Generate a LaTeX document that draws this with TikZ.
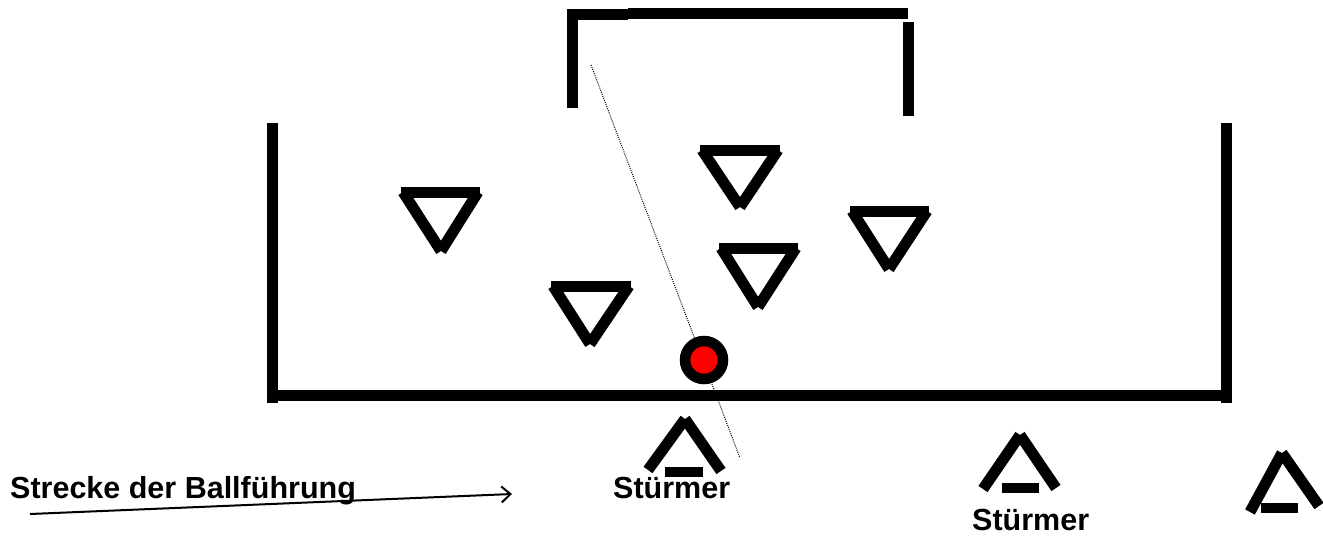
\documentclass[tikz,border=0pt]{standalone}
\usepackage{fontspec}
\setmainfont{Liberation Sans}
\usetikzlibrary{arrows.meta}
\tikzset{
  thick line/.style={line width=11pt, line cap=butt},
  label text/.style={font=\fontsize{30.5}{34}\selectfont\bfseries, inner sep=0pt, anchor=base west},
  guide/.style={line width=1pt, dash pattern=on 1pt off 1.2pt},
  run arrow/.style={line width=2pt, -{Straight Barb[length=9pt,width=16pt,line width=2pt]}}
}
\begin{document}
\begin{tikzpicture}[x=1pt,y=-1pt]
\useasboundingbox (0,0) rectangle (1323,539);
% goal
\draw[thick line] (572,108) -- (572,14);
\draw[thick line] (567,14) -- (628,14);
\draw[thick line] (628,13) -- (908,13);
\draw[thick line] (908,22) -- (908,116);
% field
\draw[thick line] (272.5,123) -- (272.5,403);
\draw[thick line] (1226.5,123) -- (1226.5,403);
\draw[thick line] (272,395) -- (1226,395);
% dotted guide
\coordinate (g1) at (591,65);
\coordinate (g2) at (740,458);
\draw[guide] (g1) -- (g2);
% defenders
\foreach \n/\l/\r/\t/\ax/\ay in {d1/401/480/192/441/249, d2/551/631/286/590/342, d3/700/780/150/740/205, d4/719/798/248/758/305, d5/850/929/211/889/267}{
  \draw[thick line] (\l,\t) -- (\r,\t);
  \draw[thick line] (\l+2,\t) -- (\ax,\ay+2);
  \draw[thick line] (\r-2,\t) -- (\ax,\ay+2);
}
% ball
\node[circle, draw=black, line width=10.5pt, fill=red, minimum size=38pt, inner sep=0pt] (ball) at (704,360) {};
% attackers
\foreach \ax/\ay/\lx/\ly/\rx/\ry/\bl/\br/\by in {685/419/648/470/721/471/665/703/472, 1020/435/983/489/1056/488/1002/1039/488, 1282/453/1250/512/1319/506/1261/1298/508}{
  \draw[thick line] (\lx,\ly) -- (\ax,\ay);
  \draw[thick line] (\rx,\ry) -- (\ax,\ay);
  \draw[line width=10pt] (\bl,\by) -- (\br,\by);
}
% labels
\node[label text] (t1) at (10,498) {Strecke der Ballführung};
\node[label text] (s1) at (613,498) {Stürmer};
\node[label text] (s2) at (972,530) {Stürmer};
% arrow
\coordinate (a1) at (30,514);
\coordinate (a2) at (512,494);
\draw[run arrow] (a1) -- (a2);
\end{tikzpicture}
\end{document}
